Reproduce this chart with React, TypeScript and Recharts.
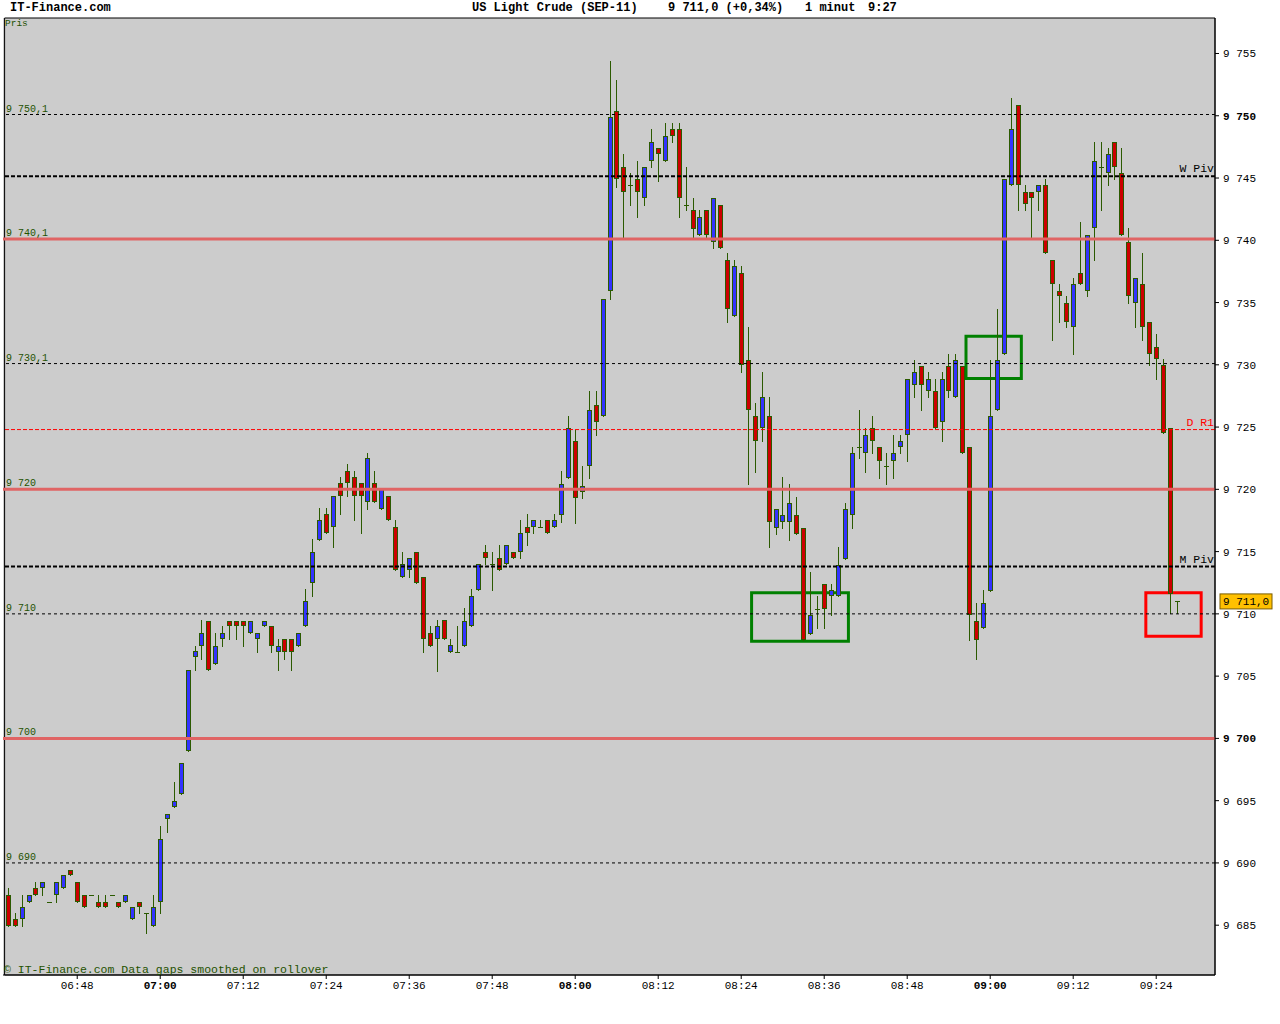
import { ComposedChart, Bar, XAxis, YAxis, CartesianGrid, ReferenceLine, ReferenceArea } from "recharts";

const FONT = '"Liberation Mono", "DejaVu Sans Mono", monospace';
const UP = "#3333ff";
const DOWN = "#cc0000";
const WICK = "#2b5a00";
const NOTE = "#1f5200";

// one-minute bars, 06:38 .. 09:27
const open = [
  9687.4, 9685.5, 9685.5, 9686.9, 9688.0, 9688.0, 9686.9, 9687.4, 9688.0, 9689.4,
  9688.5, 9687.4, 9687.4, 9686.9, 9686.9, 9687.4, 9686.9, 9686.9, 9685.5, 9686.9,
  9686.0, 9684.9, 9686.9, 9693.5, 9694.5, 9695.5, 9699.0, 9706.5, 9707.4, 9709.4,
  9706.0, 9708.0, 9709.4, 9709.4, 9709.4, 9708.5, 9708.0, 9709.0, 9709.0, 9706.9,
  9708.0, 9708.0, 9707.4, 9709.0, 9712.5, 9715.9, 9718.0, 9717.0, 9720.5, 9721.5,
  9721.0, 9720.5, 9719.0, 9720.5, 9718.4, 9719.5, 9717.0, 9713.0, 9713.5, 9715.0,
  9713.0, 9708.5, 9708.0, 9709.5, 9706.9, 9706.9, 9707.4, 9709.0, 9711.9, 9715.0,
  9714.0, 9714.5, 9714.0, 9715.0, 9715.0, 9717.0, 9717.0, 9717.0, 9717.5, 9717.0,
  9717.9, 9720.9, 9723.9, 9719.8, 9721.9, 9726.8, 9725.9, 9735.9, 9750.4, 9745.9,
  9744.4, 9744.9, 9743.4, 9746.4, 9747.4, 9746.4, 9748.9, 9748.9, 9742.8, 9742.4,
  9740.4, 9742.4, 9739.9, 9742.8, 9738.4, 9733.9, 9737.4, 9730.4, 9725.9, 9724.9,
  9725.9, 9716.9, 9717.4, 9717.4, 9717.9, 9716.9, 9708.4, 9710.4, 9712.4, 9711.4,
  9711.4, 9714.4, 9717.9, 9723.4, 9722.9, 9724.9, 9723.4, 9721.9, 9722.3, 9723.4,
  9724.4, 9728.4, 9729.9, 9727.9, 9727.9, 9725.4, 9729.9, 9727.4, 9729.9, 9723.4,
  9709.4, 9708.9, 9711.8, 9726.4, 9730.9, 9744.4, 9750.9, 9743.9, 9743.9, 9743.9,
  9744.4, 9738.4, 9735.9, 9735.0, 9733.0, 9737.4, 9735.9, 9741.0, 9745.9, 9745.4,
  9747.9, 9745.4, 9739.9, 9735.0, 9736.5, 9733.4, 9731.4, 9730.0, 9724.9, 9711.0,
];
const high = [
  9688.0, 9686.0, 9687.4, 9687.4, 9688.5, 9688.5, 9686.9, 9688.5, 9689.0, 9689.4,
  9688.5, 9687.4, 9687.4, 9687.4, 9687.4, 9687.4, 9686.9, 9687.4, 9686.5, 9686.9,
  9686.0, 9687.4, 9693.0, 9693.9, 9696.5, 9698.0, 9705.5, 9707.4, 9709.5, 9709.4,
  9708.5, 9709.0, 9709.4, 9709.4, 9709.4, 9709.4, 9708.5, 9709.4, 9709.0, 9708.0,
  9708.0, 9708.0, 9708.5, 9712.0, 9716.0, 9718.5, 9718.5, 9719.5, 9721.0, 9722.0,
  9721.5, 9720.5, 9722.9, 9721.5, 9720.0, 9719.5, 9717.5, 9715.0, 9714.5, 9715.0,
  9713.0, 9709.0, 9709.5, 9709.5, 9708.0, 9709.0, 9710.5, 9712.0, 9714.0, 9715.5,
  9715.0, 9715.5, 9715.5, 9715.0, 9717.5, 9718.0, 9717.5, 9717.5, 9717.5, 9718.0,
  9721.5, 9725.9, 9724.8, 9721.9, 9727.9, 9727.9, 9735.3, 9754.4, 9752.9, 9746.9,
  9745.4, 9746.4, 9745.9, 9748.9, 9747.4, 9749.4, 9749.4, 9749.4, 9745.9, 9743.4,
  9742.4, 9742.4, 9743.4, 9742.8, 9739.0, 9738.4, 9737.9, 9733.0, 9726.9, 9729.4,
  9727.4, 9718.4, 9721.0, 9720.4, 9719.4, 9716.9, 9713.4, 9711.4, 9712.4, 9712.4,
  9715.4, 9718.9, 9723.4, 9726.4, 9724.9, 9725.9, 9723.4, 9722.9, 9724.4, 9724.4,
  9728.9, 9730.4, 9729.9, 9729.4, 9728.9, 9729.4, 9730.9, 9730.9, 9729.9, 9723.4,
  9710.9, 9711.9, 9730.4, 9734.5, 9744.9, 9751.4, 9750.9, 9744.4, 9743.9, 9744.4,
  9744.9, 9738.4, 9736.5, 9735.5, 9737.0, 9741.5, 9740.4, 9747.9, 9747.9, 9747.4,
  9747.9, 9747.4, 9741.0, 9737.0, 9739.0, 9733.4, 9732.5, 9730.5, 9724.9, 9711.0,
];
const low = [
  9684.9, 9684.9, 9684.9, 9686.9, 9687.4, 9687.4, 9686.9, 9686.9, 9688.0, 9689.0,
  9686.9, 9686.5, 9687.4, 9686.5, 9686.5, 9687.4, 9686.5, 9686.9, 9685.5, 9686.0,
  9684.4, 9684.9, 9686.0, 9692.5, 9694.5, 9695.5, 9699.0, 9705.5, 9706.4, 9705.5,
  9706.0, 9707.4, 9708.0, 9708.0, 9707.4, 9708.5, 9706.9, 9709.0, 9706.9, 9705.5,
  9706.4, 9705.5, 9707.4, 9709.0, 9711.4, 9715.9, 9716.5, 9715.4, 9718.0, 9719.5,
  9717.5, 9716.5, 9718.4, 9719.0, 9718.4, 9717.5, 9713.5, 9713.0, 9713.0, 9712.5,
  9706.9, 9707.4, 9705.4, 9708.0, 9706.9, 9706.9, 9707.4, 9709.0, 9711.9, 9714.0,
  9711.9, 9713.5, 9714.0, 9714.5, 9714.5, 9715.5, 9716.5, 9717.0, 9716.5, 9717.0,
  9717.4, 9720.9, 9717.3, 9719.3, 9720.9, 9724.4, 9725.9, 9735.3, 9744.3, 9740.3,
  9742.8, 9741.9, 9742.8, 9745.9, 9744.8, 9746.4, 9747.9, 9741.9, 9742.4, 9740.3,
  9740.4, 9740.1, 9739.4, 9739.4, 9733.4, 9733.9, 9729.4, 9720.4, 9721.4, 9723.9,
  9715.4, 9716.4, 9716.9, 9715.9, 9716.4, 9707.9, 9708.4, 9708.9, 9708.9, 9709.9,
  9711.4, 9714.4, 9716.9, 9722.5, 9721.4, 9722.9, 9720.9, 9720.4, 9720.9, 9722.9,
  9722.3, 9727.4, 9726.4, 9727.4, 9724.9, 9723.9, 9727.4, 9727.4, 9722.9, 9707.9,
  9706.4, 9708.9, 9711.8, 9726.4, 9730.9, 9744.4, 9742.4, 9742.4, 9740.1, 9742.4,
  9739.0, 9732.0, 9733.4, 9733.0, 9730.9, 9736.5, 9735.5, 9738.4, 9742.4, 9744.4,
  9744.9, 9740.4, 9735.0, 9733.0, 9732.0, 9730.0, 9728.9, 9724.5, 9710.1, 9710.1,
];
const close = [
  9684.9, 9684.9, 9686.5, 9687.4, 9687.4, 9688.5, 9686.9, 9688.5, 9689.0, 9689.0,
  9686.9, 9686.5, 9687.4, 9686.5, 9686.5, 9687.4, 9686.5, 9687.4, 9686.5, 9686.5,
  9686.0, 9686.5, 9691.9, 9693.9, 9695.0, 9698.0, 9705.5, 9707.0, 9708.5, 9705.5,
  9707.4, 9708.5, 9709.0, 9709.0, 9709.0, 9709.4, 9708.5, 9709.4, 9707.4, 9707.4,
  9706.9, 9706.9, 9708.5, 9711.0, 9715.0, 9717.5, 9716.5, 9719.5, 9719.5, 9720.5,
  9719.5, 9719.5, 9722.5, 9719.0, 9720.0, 9717.5, 9713.5, 9714.0, 9714.5, 9712.5,
  9708.0, 9707.4, 9709.0, 9708.0, 9707.5, 9706.9, 9709.4, 9711.4, 9714.0, 9714.5,
  9714.0, 9713.5, 9715.5, 9714.5, 9716.5, 9716.5, 9717.5, 9717.0, 9716.5, 9717.5,
  9720.4, 9724.9, 9719.3, 9720.3, 9726.4, 9725.4, 9735.3, 9749.9, 9744.9, 9743.9,
  9744.4, 9743.9, 9745.9, 9747.9, 9746.9, 9748.4, 9748.4, 9743.4, 9742.8, 9740.9,
  9741.9, 9740.4, 9743.4, 9739.4, 9734.5, 9737.9, 9730.0, 9726.4, 9723.9, 9727.4,
  9717.4, 9718.4, 9717.9, 9718.9, 9716.4, 9707.9, 9709.9, 9710.4, 9710.4, 9711.9,
  9713.9, 9718.4, 9722.9, 9723.4, 9724.4, 9723.9, 9722.3, 9721.9, 9722.9, 9723.9,
  9728.9, 9729.4, 9728.4, 9728.9, 9724.9, 9728.9, 9727.9, 9730.4, 9722.9, 9709.9,
  9707.9, 9710.9, 9725.9, 9730.4, 9744.9, 9748.9, 9744.4, 9742.9, 9743.4, 9744.4,
  9739.0, 9736.5, 9735.5, 9733.4, 9736.5, 9736.5, 9740.4, 9746.4, 9745.9, 9746.9,
  9745.9, 9740.4, 9735.5, 9737.0, 9733.0, 9730.9, 9730.5, 9724.5, 9711.6, 9711.0,
];

// the time axis runs a few empty minutes past the last bar
const FIRST_MINUTE = 6 * 60 + 38;
const SLOT_COUNT = 175;
const pad = (n: number) => String(n).padStart(2, "0");
const times = Array.from({ length: SLOT_COUNT }, (_, i) => {
  const m = FIRST_MINUTE + i;
  return `${pad(Math.floor(m / 60))}:${pad(m % 60)}`;
});

const xTicks = ["06:48", "07:00", "07:12", "07:24", "07:36", "07:48", "08:00", "08:12", "08:24", "08:36", "08:48", "09:00", "09:12", "09:24"];
const yTicks = [9685, 9690, 9695, 9700, 9705, 9710, 9715, 9720, 9725, 9730, 9735, 9740, 9745, 9750, 9755];
const Y_MIN = 9681;
const Y_MAX = 9757.85;

const dashedLevels = [9750.1, 9730.1, 9710, 9690];
const redLevels = [9740.1, 9720, 9700];
const pivots = [
  { name: "W Piv", value: 9745.15 },
  { name: "M Piv", value: 9713.8 },
];
const dailyR1 = { name: "D R1", value: 9724.8 };
const lastPrice = 9711.0;

const greenBoxes = [
  { from: "08:26", to: "08:39", lo: 9707.8, hi: 9711.7 },
  { from: "08:57", to: "09:04", lo: 9728.9, hi: 9732.3 },
];
const redBox = { from: "09:23", to: "09:30", lo: 9708.2, hi: 9711.7 };

const data = times.map((t, i) =>
  i < open.length
    ? { t, o: open[i], h: high[i], l: low[i], c: close[i], range: [low[i], high[i]] }
    : { t }
);

function fmt(v: number, keepDecimal = false) {
  const [int, frac] = v.toFixed(1).split(".");
  const spaced = int.slice(0, -3) + " " + int.slice(-3);
  return keepDecimal || frac !== "0" ? `${spaced},${frac}` : spaced;
}

function Candle(props: any) {
  const { x, y, width, height, payload } = props;
  if (!payload || payload.o == null || x == null || y == null) return null;
  const { o, h, l, c } = payload;
  const top = height >= 0 ? y : y + height;
  const bottom = height >= 0 ? y + height : y;
  const span = h - l;
  const at = (p: number) => (span > 0 ? top + ((h - p) / span) * (bottom - top) : top);
  const cx = Math.floor(x + width / 2) + 0.5;
  const bodyTop = Math.round(Math.min(at(o), at(c)));
  const bodyBot = Math.round(Math.max(at(o), at(c)));
  const wick = (
    <line x1={cx} x2={cx} y1={Math.round(top)} y2={Math.round(bottom) + 1} stroke={WICK} strokeWidth={1} />
  );
  if (o === c || bodyBot - bodyTop < 1) {
    return (
      <g>
        {wick}
        <line x1={cx - 2.5} x2={cx + 2.5} y1={bodyTop + 0.5} y2={bodyTop + 0.5} stroke={WICK} strokeWidth={1} />
      </g>
    );
  }
  return (
    <g>
      {wick}
      <rect
        x={cx - 2}
        y={bodyTop + 0.5}
        width={4}
        height={Math.max(1, bodyBot - bodyTop - 1)}
        fill={c > o ? UP : DOWN}
        stroke={WICK}
        strokeWidth={1}
      />
    </g>
  );
}

function XTick({ x, y, payload }: any) {
  const bold = String(payload.value).endsWith(":00");
  return (
    <text x={x} y={y + 8} textAnchor="middle" fontFamily={FONT} fontSize={11} fontWeight={bold ? "bold" : "normal"} fill="#000">
      {payload.value}
    </text>
  );
}

function YTick({ x, y, payload }: any) {
  const bold = payload.value % 50 === 0;
  return (
    <text x={x + 2} y={y + 4} textAnchor="start" fontFamily={FONT} fontSize={11} fontWeight={bold ? "bold" : "normal"} fill="#000">
      {fmt(payload.value)}
    </text>
  );
}

function LeftLabel({ viewBox, text }: any) {
  if (!viewBox) return null;
  return (
    <text x={viewBox.x + 3} y={viewBox.y - 3} fontFamily={FONT} fontSize={10} fill={NOTE}>
      {text}
    </text>
  );
}

function RightLabel({ viewBox, text, color }: any) {
  if (!viewBox) return null;
  return (
    <text x={viewBox.x + viewBox.width - 1} y={viewBox.y - 4} textAnchor="end" fontFamily={FONT} fontSize={11.5} fill={color}>
      {text}
    </text>
  );
}

function PriceTag({ viewBox, text }: any) {
  if (!viewBox) return null;
  const left = viewBox.x + viewBox.width + 5;
  return (
    <g>
      <rect x={left} y={viewBox.y - 7.5} width={52} height={15} fill="#ffc000" stroke="#7a5c00" strokeWidth={1} />
      <text x={left + 3} y={viewBox.y + 4} fontFamily={FONT} fontSize={11} fill="#000">
        {text}
      </text>
    </g>
  );
}

export default function App() {
  const abs = (left: number, top: number, size: number, extra: any = {}) => ({
    position: "absolute" as const,
    left,
    top,
    fontFamily: FONT,
    fontSize: size,
    lineHeight: `${size}px`,
    whiteSpace: "pre" as const,
    ...extra,
  });

  return (
    <div style={{ position: "absolute", left: 0, top: 0, width: 1280, height: 1024, background: "#fff" }}>
      <ComposedChart width={1280} height={1000} data={data} margin={{ top: 18, right: 0, bottom: 0, left: 3 }}>
        <CartesianGrid horizontal={false} vertical={false} fill="#cccccc" fillOpacity={1} />
        <XAxis
          dataKey="t"
          type="category"
          height={25}
          padding={{ left: 1.6, right: 0 }}
          ticks={xTicks}
          interval={0}
          tickSize={4}
          tickLine={{ stroke: "#000" }}
          axisLine={{ stroke: "#000" }}
          tick={<XTick />}
        />
        <YAxis
          orientation="right"
          width={65}
          domain={[Y_MIN, Y_MAX]}
          allowDataOverflow
          ticks={yTicks}
          interval={0}
          tickSize={4}
          tickLine={{ stroke: "#000" }}
          axisLine={{ stroke: "#000" }}
          tick={<YTick />}
        />
        <Bar dataKey="range" shape={<Candle />} isAnimationActive={false} />

        {dashedLevels.map((v) => (
          <ReferenceLine key={`d${v}`} y={v} stroke="#000" strokeWidth={1} strokeDasharray="3 3" label={<LeftLabel text={fmt(v)} />} />
        ))}
        {redLevels.map((v) => (
          <ReferenceLine key={`r${v}`} y={v} stroke="#e06464" strokeWidth={3} label={<LeftLabel text={fmt(v)} />} />
        ))}
        {pivots.map((p) => (
          <ReferenceLine key={p.name} y={p.value} stroke="#000" strokeWidth={2} strokeDasharray="4 2" label={<RightLabel text={p.name} color="#000" />} />
        ))}
        <ReferenceLine y={dailyR1.value} stroke="#ff0000" strokeWidth={1} strokeDasharray="4 2" label={<RightLabel text={dailyR1.name} color="#ff0000" />} />
        <ReferenceLine y={lastPrice} stroke="none" label={<PriceTag text={fmt(lastPrice, true)} />} />

        {greenBoxes.map((b) => (
          <ReferenceArea key={b.from} x1={b.from} x2={b.to} y1={b.lo} y2={b.hi} fill="none" stroke="#008000" strokeWidth={3} />
        ))}
        <ReferenceArea x1={redBox.from} x2={redBox.to} y1={redBox.lo} y2={redBox.hi} fill="none" stroke="#ff0000" strokeWidth={3} />
        <ReferenceArea y1={Y_MIN} y2={Y_MAX} fill="none" stroke="#000" strokeWidth={1} />
      </ComposedChart>

      <div style={abs(10, 2, 12, { fontWeight: "bold" })}>IT-Finance.com</div>
      <div style={abs(472, 2, 12, { fontWeight: "bold" })}>US Light Crude (SEP-11)</div>
      <div style={abs(668, 2, 12, { fontWeight: "bold" })}>{`${fmt(lastPrice, true)} (+0,34%)`}</div>
      <div style={abs(805, 2, 12, { fontWeight: "bold" })}>1 minut</div>
      <div style={abs(868, 2, 12, { fontWeight: "bold" })}>9:27</div>
      <div style={abs(5, 19, 9.5, { color: NOTE })}>Pris</div>
      <div style={abs(4, 964, 11.5, { color: NOTE })}>© IT-Finance.com Data gaps smoothed on rollover</div>
    </div>
  );
}
